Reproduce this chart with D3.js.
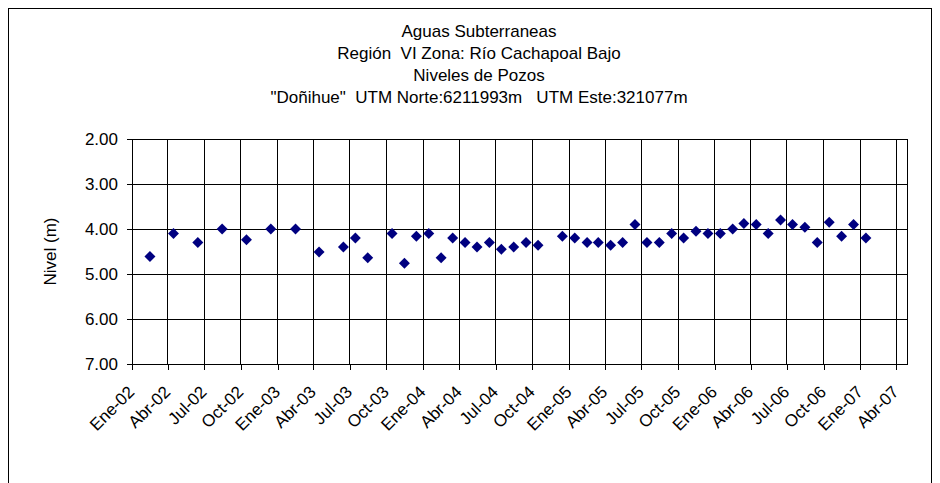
<!DOCTYPE html>
<html>
<head>
<meta charset="utf-8">
<script src="https://cdn.jsdelivr.net/npm/d3@7"></script>
<style>
  html, body { margin: 0; padding: 0; background: #fff; }
  svg { display: block; }
  text { font-family: "Liberation Sans", Arial, sans-serif; fill: #000; }
</style>
</head>
<body>
<script>
// Well water level readings (depth in metres, measured monthly)
const titleLines = [
  "Aguas Subterraneas",
  "Región  VI Zona: Río Cachapoal Bajo",
  "Niveles de Pozos",
  "\"Doñihue\"  UTM Norte:6211993m   UTM Este:321077m"
];
const yAxisTitle = "Nivel (m)";

const measureDates = [
  "2002-02-15", "2002-04-15", "2002-06-15", "2002-08-15", "2002-10-15", "2002-12-15",
  "2003-02-15", "2003-04-15", "2003-06-15", "2003-07-15", "2003-08-15", "2003-10-15",
  "2003-11-15", "2003-12-15",
  "2004-01-15", "2004-02-15", "2004-03-15", "2004-04-15", "2004-05-15", "2004-06-15",
  "2004-07-15", "2004-08-15", "2004-09-15", "2004-10-15", "2004-12-15",
  "2005-01-15", "2005-02-15", "2005-03-15", "2005-04-15", "2005-05-15", "2005-06-15",
  "2005-07-15", "2005-08-15", "2005-09-15", "2005-10-15", "2005-11-15", "2005-12-15",
  "2006-01-15", "2006-02-15", "2006-03-15", "2006-04-15", "2006-05-15", "2006-06-15",
  "2006-07-15", "2006-08-15", "2006-09-15", "2006-10-15", "2006-11-15", "2006-12-15",
  "2007-01-15"
];
const levels = [
  4.61, 4.10, 4.30, 4.00, 4.24, 4.00,
  4.00, 4.51, 4.40, 4.20, 4.64, 4.10,
  4.76, 4.16,
  4.10, 4.64, 4.20, 4.30, 4.40, 4.30,
  4.45, 4.40, 4.30, 4.36, 4.16,
  4.20, 4.30, 4.30, 4.36, 4.30, 3.90,
  4.30, 4.30, 4.10, 4.20, 4.05, 4.10,
  4.10, 4.00, 3.88, 3.90, 4.10, 3.80,
  3.90, 3.96, 4.30, 3.85, 4.16, 3.90,
  4.20
];

// Quarterly tick labels, starting at January 2002
const xTickLabels = [
  "Ene-02", "Abr-02", "Jul-02", "Oct-02", "Ene-03", "Abr-03", "Jul-03", "Oct-03",
  "Ene-04", "Abr-04", "Jul-04", "Oct-04", "Ene-05", "Abr-05", "Jul-05", "Oct-05",
  "Ene-06", "Abr-06", "Jul-06", "Oct-06", "Ene-07", "Abr-07"
];
const yTickValues = [2, 3, 4, 5, 6, 7];
const xStart = "2002-01-01";
const xEnd = "2007-04-28";

const W = 940, H = 483;
const plot = { left: 132, right: 907, top: 139, bottom: 364 };

const parse = d3.utcParse("%Y-%m-%d");
const x = d3.scaleUtc()
  .domain([parse(xStart), parse(xEnd)])
  .range([plot.left, plot.right]);
const y = d3.scaleLinear()
  .domain([2, 7])
  .range([plot.top, plot.bottom]);

const tickDates = xTickLabels.map((_, i) => d3.utcMonth.offset(parse(xStart), 3 * i));
const labelFor = new Map(tickDates.map((d, i) => [+d, xTickLabels[i]]));

const svg = d3.select("body").append("svg")
  .attr("width", W).attr("height", H);

// Outer chart frame
svg.append("rect")
  .attr("x", 8.5).attr("y", 8.5)
  .attr("width", 923).attr("height", 490)
  .attr("fill", "#fff").attr("stroke", "#000").attr("stroke-width", 1);

// Title block
svg.append("g").selectAll("text")
  .data(titleLines)
  .join("text")
  .attr("x", 479)
  .attr("y", (d, i) => 37 + i * 22)
  .attr("text-anchor", "middle")
  .attr("font-size", 17)
  .style("white-space", "pre")
  .attr("xml:space", "preserve")
  .text(d => d);

// Gridlines
const grid = svg.append("g").attr("stroke", "#000").attr("stroke-width", 1).attr("shape-rendering", "crispEdges");
grid.selectAll("line.h")
  .data(yTickValues)
  .join("line")
  .attr("class", "h")
  .attr("x1", plot.left).attr("x2", plot.right)
  .attr("y1", d => y(d)).attr("y2", d => y(d));
grid.selectAll("line.v")
  .data(tickDates.slice(1))
  .join("line")
  .attr("class", "v")
  .attr("x1", d => x(d)).attr("x2", d => x(d))
  .attr("y1", plot.top).attr("y2", plot.bottom);
grid.append("line")
  .attr("x1", plot.right).attr("x2", plot.right)
  .attr("y1", plot.top).attr("y2", plot.bottom);

// Y axis (depth increases downward)
const yAxis = svg.append("g")
  .attr("transform", `translate(${plot.left},0)`)
  .call(d3.axisLeft(y).tickValues(yTickValues).tickFormat(d3.format(".2f")).tickSize(5).tickPadding(9));
yAxis.select(".domain").attr("stroke", "#000").attr("shape-rendering", "crispEdges");
yAxis.selectAll(".tick line").attr("stroke", "#000").attr("shape-rendering", "crispEdges");
yAxis.selectAll(".tick text")
  .attr("font-size", 17)
  .attr("font-family", "Liberation Sans, Arial, sans-serif")
  .attr("fill", "#000");

// X axis with rotated month labels
const xAxis = svg.append("g")
  .attr("transform", `translate(0,${plot.bottom})`)
  .call(d3.axisBottom(x).tickValues(tickDates).tickFormat(d => labelFor.get(+d)).tickSize(6).tickSizeOuter(0));
xAxis.select(".domain").attr("stroke", "#000").attr("shape-rendering", "crispEdges");
xAxis.selectAll(".tick line").attr("stroke", "#000").attr("shape-rendering", "crispEdges");
xAxis.selectAll(".tick text")
  .attr("font-size", 17)
  .attr("font-family", "Liberation Sans, Arial, sans-serif")
  .attr("fill", "#000")
  .attr("text-anchor", "end")
  .attr("dy", null)
  .attr("y", null)
  .attr("transform", "translate(3,29) rotate(-45)");

// Y axis title
svg.append("text")
  .attr("transform", `translate(56,${(plot.top + plot.bottom) / 2}) rotate(-90)`)
  .attr("text-anchor", "middle")
  .attr("font-size", 17)
  .text(yAxisTitle);

// Measurement markers (navy diamonds)
const points = measureDates.map((d, i) => ({ date: parse(d), level: levels[i] }));
svg.append("g").selectAll("path")
  .data(points)
  .join("path")
  .attr("d", d3.symbol(d3.symbolSquare, 60))
  .attr("transform", d => `translate(${x(d.date)},${y(d.level)}) rotate(45)`)
  .attr("fill", "#000080");
</script>
</body>
</html>
